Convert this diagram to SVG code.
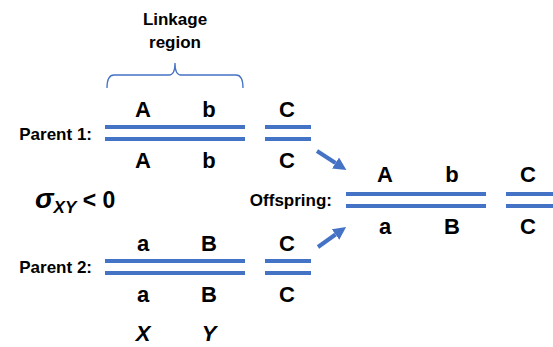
<svg xmlns="http://www.w3.org/2000/svg" width="553" height="347" viewBox="0 0 553 347">
<style>
.chr{stroke:#4472C4;stroke-width:4;fill:none}
.g{font-family:"Liberation Sans",Arial,sans-serif;font-weight:bold;font-size:22px;fill:#000;text-anchor:middle}
.lbl{font-family:"Liberation Sans",Arial,sans-serif;font-weight:bold;font-size:17px;fill:#000}
.arr{stroke:#4472C4;stroke-width:4;fill:none}
</style>
<defs>
<marker id="ah" markerUnits="userSpaceOnUse" markerWidth="13" markerHeight="13" viewBox="0 0 13 13" refX="0" refY="6.5" orient="auto">
<path d="M0,0 L13,6.5 L0,13 z" fill="#4472C4"/>
</marker>
</defs>
<rect width="553" height="347" fill="#fff"/>

<g id="linkage">
<text class="lbl" x="175" y="25" text-anchor="middle">Linkage</text>
<text class="lbl" x="175" y="48" text-anchor="middle">region</text>
<path d="M107,88 Q107,75 114,75 L169,75 Q175,75 175,63 Q175,75 181,75 L236,75 Q243,75 243,88" stroke="#4472C4" stroke-width="1.3" fill="none"/>
</g>

<g id="parent1">
<text class="lbl" x="92" y="140" text-anchor="end">Parent 1:</text>
<line class="chr" x1="105" y1="127" x2="245" y2="127"/>
<line class="chr" x1="105" y1="139" x2="245" y2="139"/>
<line class="chr" x1="265" y1="127" x2="311" y2="127"/>
<line class="chr" x1="265" y1="139" x2="311" y2="139"/>
<text class="g" x="143" y="117">A</text>
<text class="g" x="209" y="117">b</text>
<text class="g" x="287" y="117">C</text>
<text class="g" x="143" y="168">A</text>
<text class="g" x="209" y="168">b</text>
<text class="g" x="287" y="168">C</text>
</g>

<g id="sigma">
<text font-family="'Liberation Sans',Arial,sans-serif" font-weight="bold" font-size="23" x="35" y="208"><tspan font-style="italic" font-size="28">σ</tspan><tspan font-style="italic" font-size="17" dy="5">XY</tspan><tspan dy="-5"> &lt; 0</tspan></text>
</g>

<g id="parent2">
<text class="lbl" x="92" y="273" text-anchor="end">Parent 2:</text>
<line class="chr" x1="105" y1="261" x2="245" y2="261"/>
<line class="chr" x1="105" y1="273" x2="245" y2="273"/>
<line class="chr" x1="265" y1="261" x2="311" y2="261"/>
<line class="chr" x1="265" y1="273" x2="311" y2="273"/>
<text class="g" x="143" y="251">a</text>
<text class="g" x="209" y="251">B</text>
<text class="g" x="287" y="251">C</text>
<text class="g" x="143" y="302">a</text>
<text class="g" x="209" y="302">B</text>
<text class="g" x="287" y="302">C</text>
</g>

<g id="loci">
<text class="g" x="143" y="341" font-style="italic">X</text>
<text class="g" x="209" y="341" font-style="italic">Y</text>
</g>

<g id="offspring">
<text class="lbl" x="332" y="206" text-anchor="end">Offspring:</text>
<line class="chr" x1="346" y1="194" x2="486" y2="194"/>
<line class="chr" x1="346" y1="206" x2="486" y2="206"/>
<line class="chr" x1="506" y1="194" x2="553" y2="194"/>
<line class="chr" x1="506" y1="206" x2="553" y2="206"/>
<text class="g" x="385" y="182">A</text>
<text class="g" x="452" y="182">b</text>
<text class="g" x="528" y="182">C</text>
<text class="g" x="385" y="234">a</text>
<text class="g" x="452" y="234">B</text>
<text class="g" x="528" y="234">C</text>
</g>

<g id="connectors">
<line class="arr" x1="317" y1="151" x2="335.5" y2="163" marker-end="url(#ah)"/>
<line class="arr" x1="318" y1="247" x2="335.5" y2="234.5" marker-end="url(#ah)"/>
</g>
</svg>
